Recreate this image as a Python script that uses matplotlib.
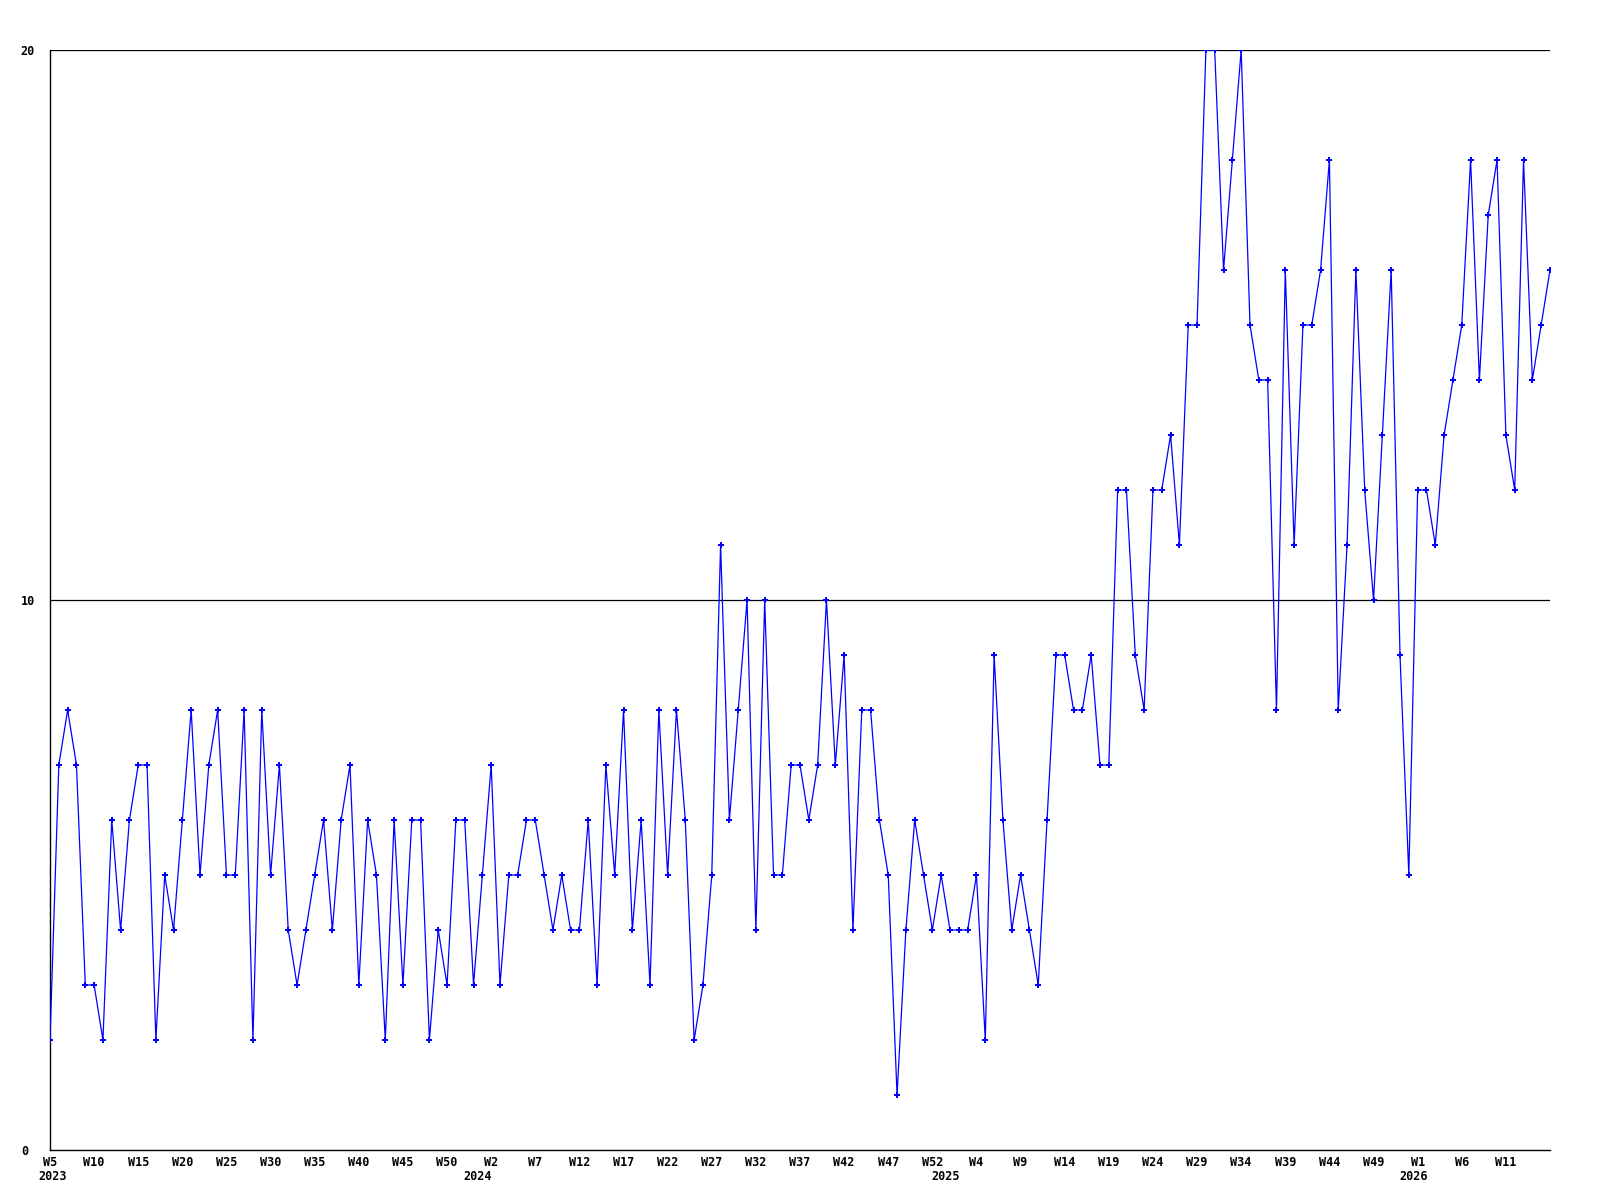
import matplotlib
matplotlib.use("Agg")
import matplotlib.pyplot as plt
import matplotlib.transforms as mtransforms

# weekly counts, 2023 W5 .. 2026 (one value per week)
values = [
    2, 7, 8, 7, 3, 3, 2, 6, 4, 6, 7, 7, 2, 5, 4, 6, 8, 5, 7, 8, 5, 5, 8,
    2, 8, 5, 7, 4, 3, 4, 5, 6, 4, 6, 7, 3, 6, 5, 2, 6, 3, 6, 6, 2, 4, 3,
    6, 6, 3, 5, 7, 3, 5, 5, 6, 6, 5, 4, 5, 4, 4, 6, 3, 7, 5, 8, 4, 6,
    3, 8, 5, 8, 6, 2, 3, 5, 11, 6, 8, 10, 4, 10, 5, 5, 7, 7, 6, 7, 10, 7,
    9, 4, 8, 8, 6, 5, 1, 4, 6, 5, 4, 5, 4, 4, 4, 5, 2, 9, 6, 4, 5, 4,
    3, 6, 9, 9, 8, 8, 9, 7, 7, 12, 12, 9, 8, 12, 12, 13, 11, 15, 15, 20, 20, 16,
    18, 20, 15, 14, 14, 8, 16, 11, 15, 15, 16, 18, 8, 11, 16, 12, 10, 13, 16, 9, 5, 12, 12,
    11, 13, 14, 15, 18, 14, 17, 18, 13, 12, 18, 14, 15, 16,
]

week_labels = ["W5", "W10", "W15", "W20", "W25", "W30", "W35", "W40", "W45", "W50",
               "W2", "W7", "W12", "W17", "W22", "W27", "W32", "W37", "W42", "W47", "W52",
               "W4", "W9", "W14", "W19", "W24", "W29", "W34", "W39", "W44", "W49",
               "W1", "W6", "W11"]
tick_step = 5

years = ["2023", "2024", "2025", "2026"]
year_start = [0, 49, 102, 155]   # index of first week of each year

y_ticks = [0, 10, 20]

x = list(range(len(values)))

fig = plt.figure(figsize=(16, 12), dpi=100)
ax = fig.add_axes([50 / 1600, 50 / 1200, 1500 / 1600, 1100 / 1200])

ax.plot(x, values, color="#0000ff", lw=0.9, marker="P", markersize=3.8,
        markeredgewidth=0, zorder=3)

ax.set_xlim(0, len(values) - 1)
ax.set_ylim(0, 20)

for s in ["top", "right"]:
    ax.spines[s].set_visible(False)
for s in ["left", "bottom"]:
    ax.spines[s].set_linewidth(1.0)
    ax.spines[s].set_color("black")

for yv in y_ticks[1:]:
    ax.axhline(yv, color="black", lw=0.9, zorder=1)

font = dict(family="DejaVu Sans Mono", weight="bold", size=8.5)

ax.set_yticks(y_ticks)
ax.set_yticklabels([str(v) for v in y_ticks], **font)
ax.tick_params(axis="y", length=0, pad=21)
for t in ax.get_yticklabels():
    t.set_ha("left")

ax.set_xticks([i * tick_step for i in range(len(week_labels))])
ax.set_xticklabels(week_labels, **font)
ax.tick_params(axis="x", length=0, pad=4)
for t in ax.get_xticklabels():
    t.set_x(t.get_position()[0])

trans = mtransforms.blended_transform_factory(ax.transData, ax.transAxes)
for yr, xi in zip(years, year_start):
    ax.text(xi + (0.3 if xi == 0 else -0.5), -0.0245, yr, transform=trans,
            ha="center", va="center", **font)

fig.savefig("out.png", dpi=100)
